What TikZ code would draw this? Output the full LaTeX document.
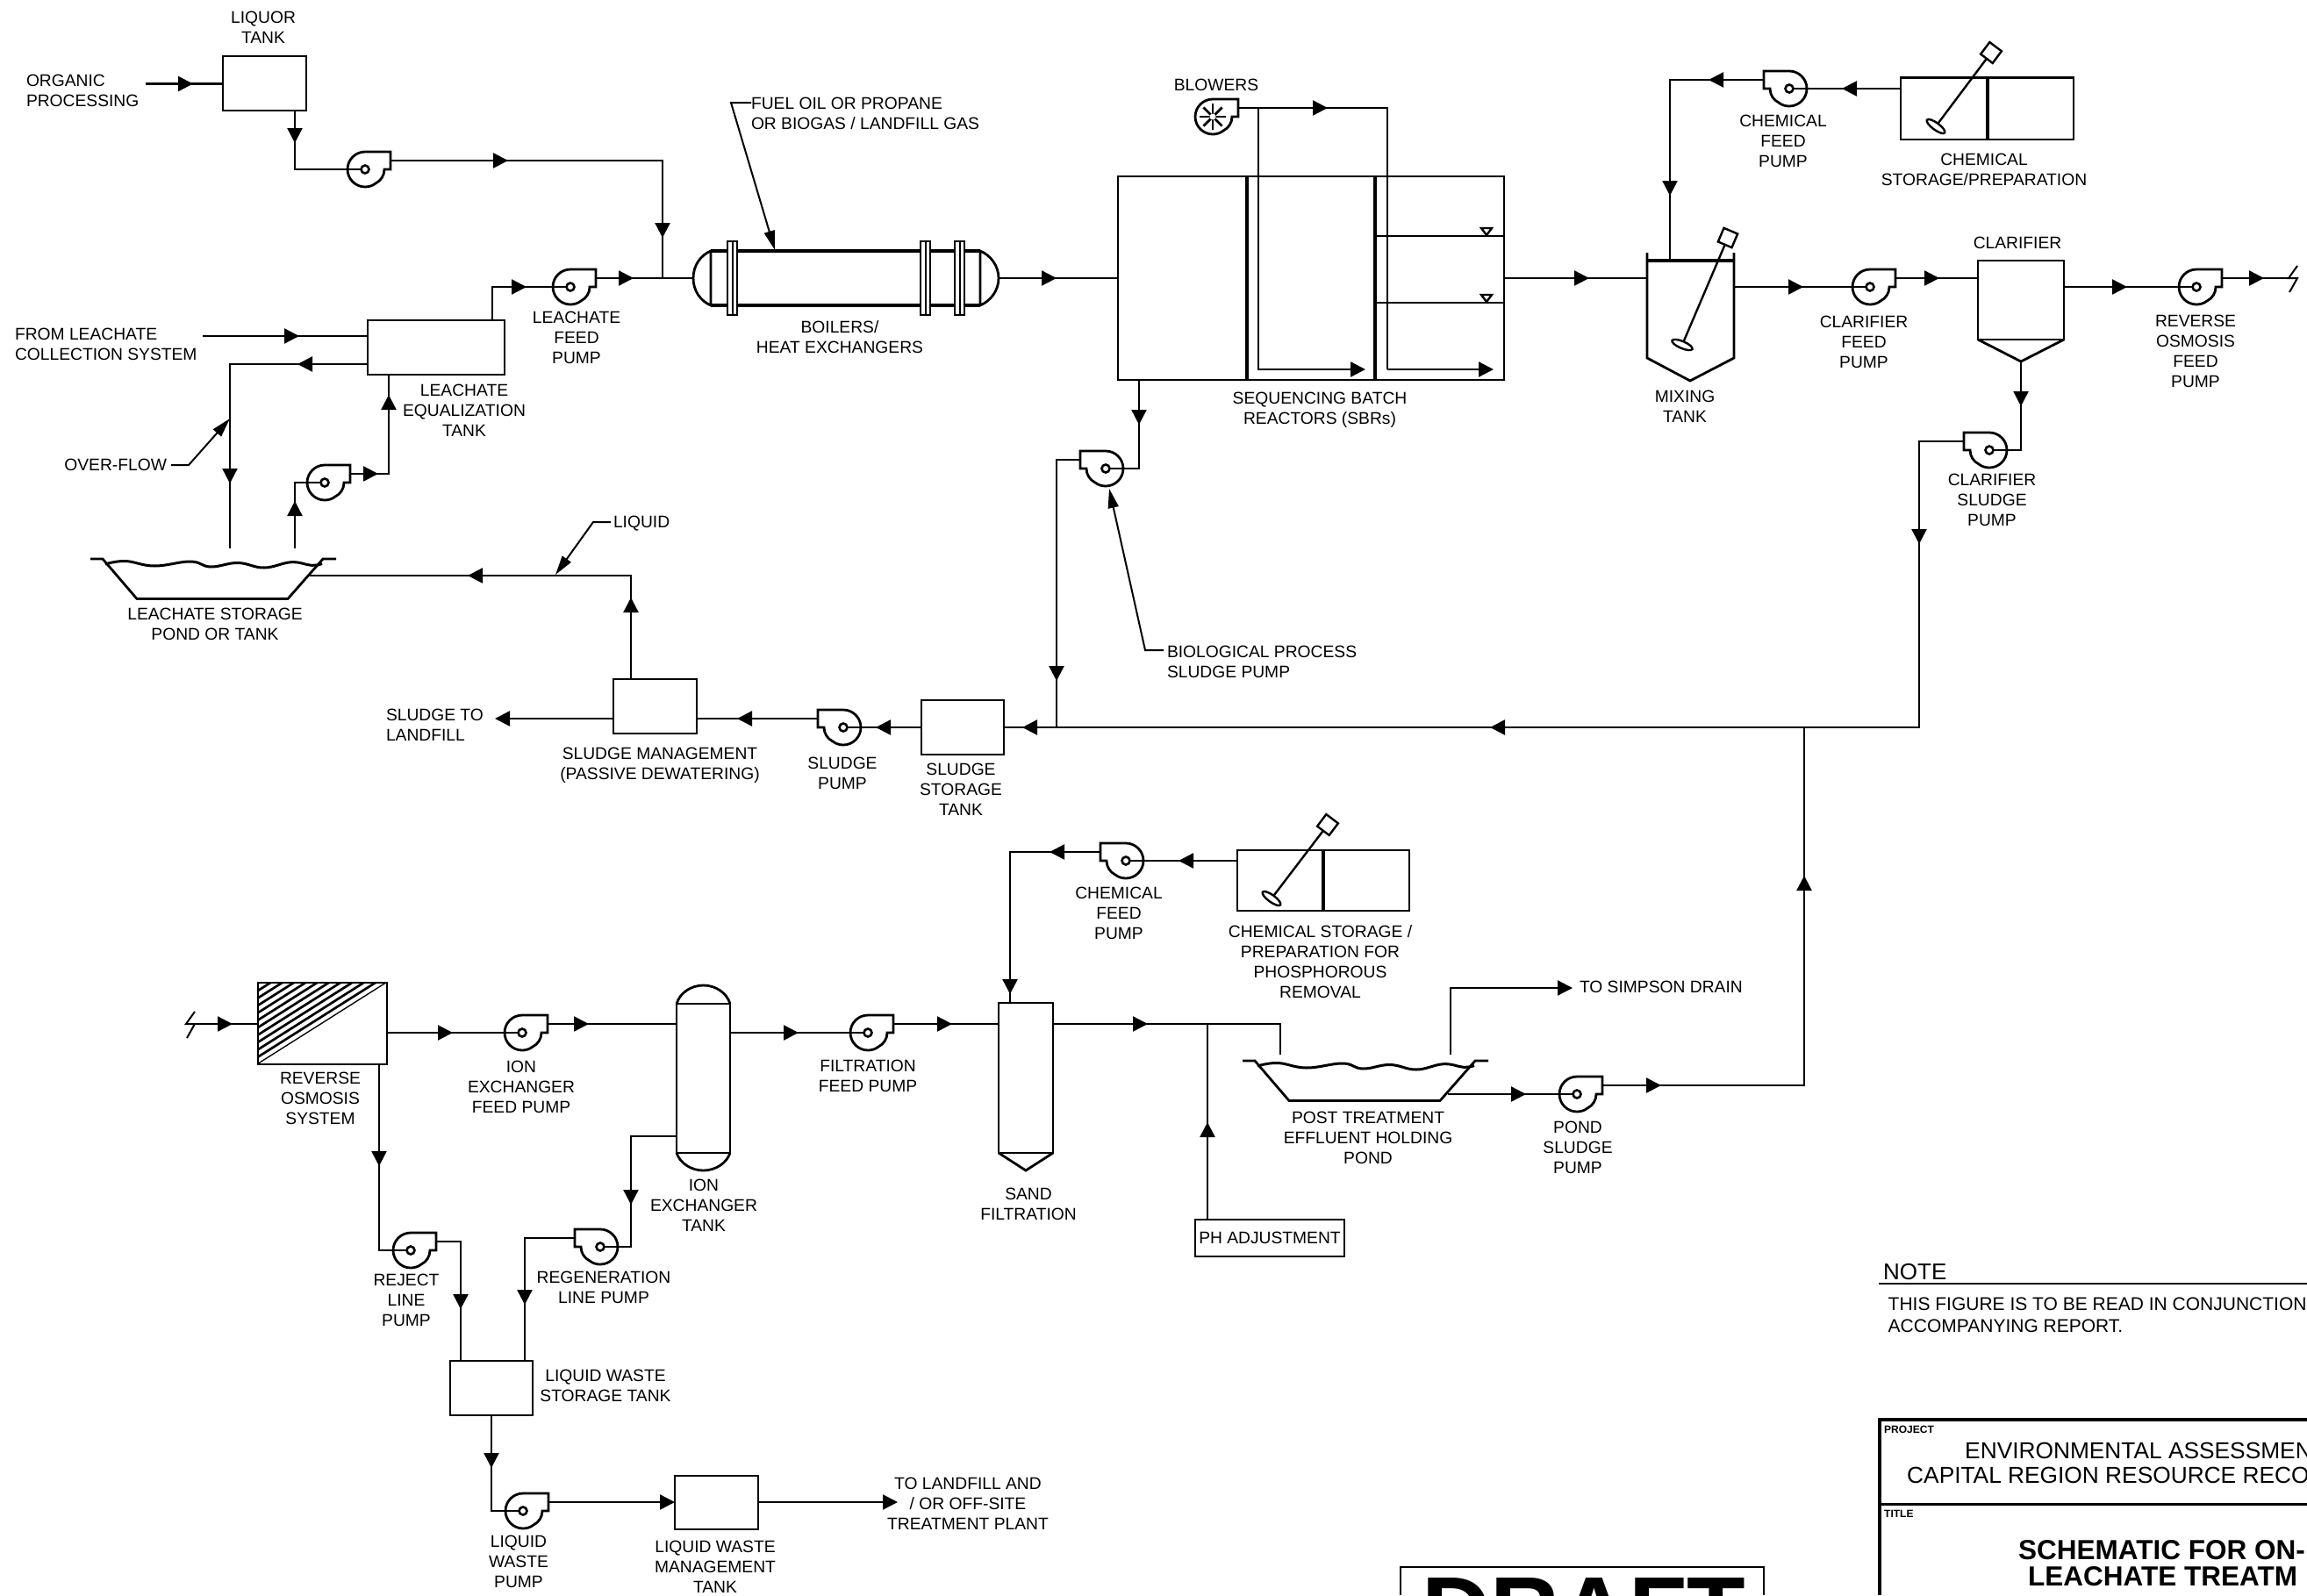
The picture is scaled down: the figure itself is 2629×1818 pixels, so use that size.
\documentclass[tikz,border=0pt]{standalone}
\usepackage{fontspec}
\setmainfont{Liberation Sans}
\usetikzlibrary{arrows.meta,decorations.markings,shapes.geometric,calc}
\tikzset{
  tipS/.tip={Triangle[length=17pt,width=17pt]},
  tipL/.tip={Triangle[length=22pt,width=12pt]},
  pipe/.style={draw,line width=2.4pt,line join=miter},
  flow/.style={postaction={decorate,decoration={markings,mark=at position #1pt with {\arrow{tipS}}}}},
  flowend/.style={-{tipS}},
  leader/.style={draw,line width=2pt,-{tipL}},
  body/.style={draw,line width=2.8pt,line join=miter},
  tank/.style={draw,line width=2.8pt,inner sep=0pt,outer sep=0pt},
  hub/.style={circle,draw,fill=white,line width=2.6pt,minimum size=9pt,inner sep=0pt,outer sep=0pt},
  lbl/.style={inner sep=0pt,outer sep=0pt,align=center,font=\fontsize{19.25}{23}\selectfont},
  lbll/.style={lbl,align=left,anchor=west},
  agd/.style={draw,line width=2.4pt,minimum size=17pt,inner sep=0pt,outer sep=0pt},
  agp/.style={ellipse,draw,line width=2.4pt,minimum width=25pt,minimum height=8pt,inner sep=0pt,outer sep=0pt},
  shaft/.style={draw,line width=2.4pt},
  hatchline/.style={draw,line width=2.7pt},
}
\newcommand{\tankbox}[5]{\node[tank,minimum width={(#4-#2)*1pt},minimum height={(#5-#3)*1pt}] (#1) at ({(#2+#4)/2},{(#3+#5)/2}) {};}
\newcommand{\pumpsym}[4]{%
  \begin{scope}[shift={(#2,#3)},xscale=#4]
    \draw[body] (0,-20) -- (29,-20) -- (29,0) -- (22,0) .. controls (22,7) and (18,13) .. (12,16) .. controls (8.5,18.7) and (4.5,20) .. (0,20) .. controls (-11,20) and (-20,11) .. (-20,0) .. controls (-20,-11) and (-11,-20) .. (0,-20) -- cycle;
    \coordinate (#1-o) at (29,-10);
  \end{scope}
  \node[hub] (#1) at (#2,#3) {};
}
\newcommand{\txtc}[4]{\node[lbl] (#1) at (#2,#3) {#4};}
\newcommand{\txtl}[4]{\node[lbll] (#1) at (#2,#3) {#4};}
\newcommand{\agit}[7]{%
  \node[agd,rotate=#6] (#1d) at (#4,#5) {};
  \node[agp,rotate=#7] (#1p) at (#2,#3) {};
  \draw[shaft] (#1p) -- (#1d);
}
\newcommand{\pondsym}[2]{%
  \begin{scope}[shift={(#1,#2)}]
    \draw[body] (0,0) -- (14,0) -- (53,45.5) -- (225,45.5) -- (265,0) -- (280,0);
    \draw[line width=3pt] plot[smooth,tension=0.7] coordinates {(17,6) (40,2.5) (73,8) (114,3) (137,9) (168,4.5) (198,10) (229,3.7) (252,7.3) (264,5.5)};
  \end{scope}
}
\begin{document}
\begin{tikzpicture}[x=1pt,y=-1pt]
\useasboundingbox (0,0) rectangle (2629,1818);
\clip (0,0) rectangle (2629,1818);

% --- tanks
\tankbox{liquor}{254}{64}{349}{126}
\tankbox{eq}{419}{365}{575}{427}
\tankbox{sm}{699}{774}{794}{836}
\tankbox{sst}{1050}{798}{1144}{860}
\tankbox{sbr}{1274}{201}{1714}{433}
\tankbox{cs1}{2166}{88.5}{2363}{159}
\tankbox{clar}{2254}{297}{2352}{387}
\tankbox{cs2}{1410}{969}{1606}{1038}
\tankbox{ro}{294}{1120}{441}{1213}
\tankbox{ix}{771}{1144}{832}{1314}
\tankbox{filt}{1138}{1143}{1200}{1314}
\tankbox{lws}{513}{1551}{607}{1613}
\tankbox{lwm}{769}{1682}{864}{1743}
\node[tank,minimum width=170pt,minimum height=42pt,font=\fontsize{19.25}{23}\selectfont] (ph) at (1447,1411) {PH ADJUSTMENT};

% --- tank details
\draw[line width=3.6pt] (sbr.north west -| 1421,0) -- (sbr.south west -| 1421,0);
\draw[line width=3.6pt] (sbr.north west -| 1567,0) -- (sbr.south west -| 1567,0);
\draw[tank] (1567,269) -- (1714,269);
\draw[tank] (1567,345) -- (1714,345);
\draw[line width=2.4pt] (1688,260) -- (1700,260) -- (1694,268) -- cycle;
\draw[line width=2.4pt] (1688,336) -- (1700,336) -- (1694,344) -- cycle;
\draw[line width=3.2pt] (2265,88.5) -- (2265,159);
\draw[line width=3.6pt] (1508,969) -- (1508,1038);
\draw[body] (2254,387) -- (2303,412) -- (2352,387);
\draw[body] (1138,1314) -- (1169,1334) -- (1200,1314);
% ion exchanger caps
\draw[body] (771,1144) .. controls (775,1131) and (788,1123) .. (801.5,1123) .. controls (815,1123) and (828,1131) .. (832,1144);
\draw[body] (771,1314) .. controls (775,1326) and (788,1334) .. (801.5,1334) .. controls (815,1334) and (828,1326) .. (832,1314);
% RO hatch
\begin{scope}
  \clip (294,1120) -- (441,1120) -- (294,1213) -- cycle;
  \foreach \k in {0,1,...,11} {
    \draw[hatchline] (294,{1213-8.4*\k}) -- (441,{1120-8.4*\k});
  }
\end{scope}
% mixing tank
\draw[body] (1877,288) -- (1877,408) -- (1926,434) -- (1976,408) -- (1976,288);
\draw[line width=3.6pt] (1877,297) -- (1976,297);
% agitators
\agit{aga}{2206}{144}{2269}{60}{53}{-36}
\agit{agb}{1917}{393}{1969}{271}{67}{-23}
\agit{agc}{1449}{1024}{1513}{940}{53}{-36}
% boiler
\draw[body,line width=3.4pt] (810,286) -- (1117,286);
\draw[body,line width=3.4pt] (810,348) -- (1117,348);
\draw[body] (810,286) .. controls (798,291) and (790,303) .. (790,317) .. controls (790,331) and (798,343) .. (810,348) -- cycle;
\draw[body] (1117,286) .. controls (1129,291) and (1138,303) .. (1138,317) .. controls (1138,331) and (1129,343) .. (1117,348) -- cycle;
\foreach \fx in {829,1049,1088} {
  \draw[body,fill=white] (\fx,275) rectangle (\fx+11,359);
  \draw[line width=2pt] (\fx+5.5,275) -- (\fx+5.5,359);
}
\coordinate (boilin) at (790,317);
\coordinate (boilout) at (1138,317);
% ponds
\pondsym{103}{637}
\pondsym{1416}{1209}

% --- pumps
\pumpsym{pa}{416}{193}{1}
\pumpsym{pb}{650}{327}{1}
\pumpsym{pc}{370}{550}{1}
\pumpsym{pd}{961}{829}{-1}
\pumpsym{pe}{1260}{534}{-1}
\pumpsym{pf}{2039}{101}{-1}
\pumpsym{pg}{2131}{327}{1}
\pumpsym{ph1}{2267}{513}{-1}
\pumpsym{pi}{2503}{327}{1}
\pumpsym{pj}{1283}{981}{-1}
\pumpsym{pk}{595}{1177}{1}
\pumpsym{pl}{989}{1177}{1}
\pumpsym{pm}{1797}{1247}{1}
\pumpsym{pn}{468}{1425}{1}
\pumpsym{po}{684}{1421}{-1}
\pumpsym{pq}{596}{1722}{1}
% blower
\begin{scope}[shift={(1382,133)}]
  \draw[body] (0,-20) -- (29,-20) -- (29,0) -- (22,0) .. controls (22,7) and (18,13) .. (12,16) .. controls (8.5,18.7) and (4.5,20) .. (0,20) .. controls (-11,20) and (-20,11) .. (-20,0) .. controls (-20,-11) and (-11,-20) .. (0,-20) -- cycle;
  \foreach \a in {0,45,...,315} { \draw[line width=2.8pt] (0,0) -- (\a:15); }
  \coordinate (bl-o) at (29,-10);
\end{scope}
\node[circle,fill=white,minimum size=7pt,inner sep=0pt] (blhub) at (1382,133) {};

% --- named free ends and junctions
\coordinate (orgin) at (166,95.5);
\coordinate (liqout) at (336,126);
\coordinate (ja) at (755,317);
\coordinate (eqtop) at (561,365);
\coordinate (fromin) at (231,383);
\coordinate (eqov) at (419,415);
\coordinate (pda) at (262,625);
\coordinate (pdb) at (336,625);
\coordinate (eqin) at (443,427);
\coordinate (smtop) at (719,774);
\coordinate (pdout) at (353,656);
\coordinate (smw) at (699,819);
\coordinate (smout) at (564,819);
\coordinate (sme) at (794,819);
\coordinate (sstw) at (1050,829);
\coordinate (jb) at (2187,829);
\coordinate (sste) at (1144,829);
\coordinate (sbrout) at (1298,433);
\coordinate (jc) at (1204,829);
\coordinate (sbrw) at (1274,317);
\coordinate (ba) at (1581,123);
\coordinate (bb) at (1434,123);
\coordinate (sa) at (1581,421);
\coordinate (sb) at (1702,421);
\coordinate (sc) at (1556,421);
\coordinate (sbre) at (1714,317);
\coordinate (mixw) at (1877,317);
\coordinate (mixtop) at (1903,297);
\coordinate (cswa) at (2166,101);
\coordinate (mixe) at (1976,327);
\coordinate (clarw) at (2254,317);
\coordinate (clare) at (2352,327);
\coordinate (clarb) at (2303,412);
\coordinate (brka) at (2618,317);
\coordinate (brkb) at (213,1167);
\coordinate (row) at (294,1167);
\coordinate (roe) at (441,1177);
\coordinate (ixw) at (771,1167);
\coordinate (rob) at (432,1213);
\coordinate (lwsa) at (525,1551);
\coordinate (ixb) at (771,1295);
\coordinate (jd) at (719,1421);
\coordinate (lwsb) at (598,1551);
\coordinate (lwso) at (560,1613);
\coordinate (lwmw) at (769,1712);
\coordinate (lwme) at (864,1712);
\coordinate (lwmo) at (1023,1712);
\coordinate (ixe) at (832,1177);
\coordinate (filtw) at (1138,1167);
\coordinate (cswb) at (1410,981);
\coordinate (filttop) at (1151,1143);
\coordinate (filte) at (1200,1167);
\coordinate (pondin) at (1459,1202);
\coordinate (jf) at (1376,1167);
\coordinate (phtop) at (1376,1390);
\coordinate (pondo) at (1650,1247);
\coordinate (je) at (2056,829);
\coordinate (simpa) at (1653,1202);
\coordinate (simpb) at (1792,1126);

% --- connectors
\draw[pipe,flow=54] (orgin) -- (orgin -| liquor.west);
\draw[pipe,flow=37] (liqout) |- (pa);
\draw[pipe,flow=134,flow=398] (pa-o) -| (ja);
\draw[pipe,flow=77] (eqtop) |- (pb);
\draw[pipe,flow=43] (pb-o) -- (boilin);
\draw[pipe,flow=110] (fromin) -- (fromin -| eq.west);
\draw[pipe,flow=80,flow=293] (eqov) -| (pda);
\draw[pipe,flow=54] (pdb) |- (pc);
\draw[pipe,flow=32,flow=134] (pc-o) -| (eqin);
\draw[pipe,flow=93,flow=304] (smtop) |- (pdout);
\draw[pipe,flowend] (smw) -- (smout);
\draw[pipe,flow=92] (pd-o) -- (sme);
\draw[pipe,flow=52] (sstw) -- (pd);
\draw[pipe,flow=168,flow=866,flow=1399] (ph1-o) -| (jb) -- (sste);
\draw[pipe,flow=51] (sbrout) |- (pe);
\draw[pipe,flow=279] (pe-o) -| (jc);
\draw[pipe,flow=66] (boilout) -- (sbrw);
\draw[pipe,flow=102] (bl-o) -- (ba) -- (sa);
\draw[pipe,flowend] (sa) -- (sb);
\draw[pipe,flowend] (bb) |- (sc);
\draw[pipe,flow=97] (sbre) -- (mixw);
\draw[pipe,flow=63,flow=239] (pf-o) -| (mixtop);
\draw[pipe,flow=67] (cswa) -- (pf);
\draw[pipe,flow=79] (mixe) -- (pg);
\draw[pipe,flow=50] (pg-o) -- (clarw);
\draw[pipe,flow=72] (clare) -- (pi);
\draw[pipe,flow=48] (pi-o) -- (brka);
\draw[pipe,flow=51] (clarb) |- (ph1);
\draw[pipe,flow=52] (brkb) -- (row);
\draw[pipe,flow=75] (roe) -- (pk);
\draw[pipe,flow=47] (pk-o) -- (ixw);
\draw[pipe,flow=116] (rob) |- (pn);
\draw[pipe,flow=105] (pn-o) -| (lwsa);
\draw[pipe,flow=130] (ixb) -| (jd) -- (po);
\draw[pipe,flow=133] (po-o) -| (lwsb);
\draw[pipe,flow=60] (lwso) |- (pq);
\draw[pipe,flowend] (pq-o) -- (lwmw);
\draw[pipe,flowend] (lwme) -- (lwmo);
\draw[pipe,flow=78] (ixe) -- (pl);
\draw[pipe,flow=67] (pl-o) -- (filtw);
\draw[pipe,flow=67] (cswb) -- (pj);
\draw[pipe,flow=58,flow=265] (pj-o) -| (filttop);
\draw[pipe,flow=108] (filte) -| (pondin);
\draw[pipe,flow=111] (phtop) -- (jf);
\draw[pipe,flow=89] (pondo) -- (pm);
\draw[pipe,flow=67,flow=469] (pm-o) -| (je);
\draw[pipe,flowend] (simpa) |- (simpb);

% break marks
\draw[line width=2pt] (2618,303) -- (2608,317) -- (2618,317) -- (2609,333);
\draw[line width=2pt] (222,1153) -- (212,1167) -- (222,1167) -- (213,1183);

% --- labels
\txtc{tliq}{300}{31.5}{LIQUOR\\TANK}
\txtl{torg}{30}{103.5}{ORGANIC\\PROCESSING}
\txtl{tfrom}{17}{392}{FROM LEACHATE\\COLLECTION SYSTEM}
\txtc{tlfp}{657}{385}{LEACHATE\\FEED\\PUMP}
\txtc{teq}{529}{468}{LEACHATE\\EQUALIZATION\\TANK}
\node[lbl,anchor=east] (tov) at (190,530) {OVER-FLOW};
\txtc{tstor}{245}{711.5}{LEACHATE STORAGE\\POND OR TANK}
\txtl{tliquid}{699}{597}{LIQUID}
\txtl{tfuel}{856}{129}{FUEL OIL OR PROPANE\\OR BIOGAS / LANDFILL GAS}
\txtc{tboil}{957}{384.5}{BOILERS/\\HEAT EXCHANGERS}
\txtc{tblow}{1386}{97}{BLOWERS}
\txtc{tsbr}{1504}{467.5}{SEQUENCING BATCH\\REACTORS (SBRs)}
\txtl{tbio}{1330}{754}{BIOLOGICAL PROCESS\\SLUDGE PUMP}
\txtc{tcfp}{2032}{161}{CHEMICAL\\FEED\\PUMP}
\txtc{tcsp}{2261}{193}{CHEMICAL\\STORAGE/PREPARATION}
\txtc{tmix}{1920}{463}{MIXING\\TANK}
\txtc{tcl}{2299}{277}{CLARIFIER}
\txtc{tclf}{2124}{390}{CLARIFIER\\FEED\\PUMP}
\txtc{tcls}{2270}{570}{CLARIFIER\\SLUDGE\\PUMP}
\txtc{trof}{2502}{400}{REVERSE\\OSMOSIS\\FEED\\PUMP}
\txtl{tslf}{440}{826.5}{SLUDGE TO\\LANDFILL}
\txtc{tsm}{752}{872.5}{SLUDGE MANAGEMENT\\(PASSIVE DEWATERING)}
\txtc{tsp}{960}{881}{SLUDGE\\PUMP}
\txtc{tsst}{1095}{900}{SLUDGE\\STORAGE\\TANK}
\txtc{tcf2}{1275}{1041}{CHEMICAL\\FEED\\PUMP}
\txtc{tcs2}{1504.5}{1096}{CHEMICAL STORAGE /\\PREPARATION FOR\\PHOSPHOROUS\\REMOVAL}
\txtl{tsimp}{1800}{1125}{TO SIMPSON DRAIN}
\txtc{tro}{365}{1252}{REVERSE\\OSMOSIS\\SYSTEM}
\txtc{tifp}{594}{1238.5}{ION\\EXCHANGER\\FEED PUMP}
\txtc{tixt}{802}{1373.5}{ION\\EXCHANGER\\TANK}
\txtc{tffp}{989}{1226.5}{FILTRATION\\FEED PUMP}
\txtc{tsand}{1172}{1372.5}{SAND\\FILTRATION}
\txtc{tpost}{1559}{1297}{POST TREATMENT\\EFFLUENT HOLDING\\POND}
\txtc{tpsp}{1798}{1308}{POND\\SLUDGE\\PUMP}
\txtc{trej}{463}{1482}{REJECT\\LINE\\PUMP}
\txtc{treg}{688}{1467}{REGENERATION\\LINE PUMP}
\txtc{tlws}{690}{1579.5}{LIQUID WASTE\\STORAGE TANK}
\txtc{tlwp}{591}{1780}{LIQUID\\WASTE\\PUMP}
\txtc{tlwm}{815}{1786}{LIQUID WASTE\\MANAGEMENT\\TANK}
\txtc{tland}{1103}{1713.5}{TO LANDFILL AND\\/ OR OFF-SITE\\TREATMENT PLANT}

% --- leaders
\coordinate (fa) at (856,117);
\coordinate (fb) at (833,117);
\coordinate (fc) at (883,285);
\draw[leader] (fa) -- (fb) -- (fc);
\coordinate (oa) at (195,530);
\coordinate (ob) at (215,530);
\coordinate (oc) at (262,477);
\draw[leader] (oa) -- (ob) -- (oc);
\coordinate (la) at (696,595);
\coordinate (lb) at (676,595);
\coordinate (lc) at (633,655);
\draw[leader] (la) -- (lb) -- (lc);
\coordinate (ra) at (1326,741);
\coordinate (rb) at (1305,741);
\coordinate (rc) at (1264,557);
\draw[leader] (ra) -- (rb) -- (rc);

% --- note and title block
\node[inner sep=0pt,anchor=west,font=\fontsize{26}{30}\selectfont] (tnote) at (2146,1450) {NOTE};
\draw[line width=2pt] (2141,1463) -- (2629,1463);
\node[inner sep=0pt,anchor=west,align=left,font=\fontsize{21}{25}\selectfont] (tnt) at (2151.5,1498.5) {THIS FIGURE IS TO BE READ IN CONJUNCTION\\ACCOMPANYING REPORT.};
\draw[line width=4pt] (2629,1618) -- (2141.5,1618) -- (2141.5,1818);
\draw[line width=3pt] (2141.5,1714) -- (2629,1714);
\node[inner sep=0pt,anchor=west,font=\bfseries\fontsize{12}{14}\selectfont] (tpr) at (2147,1629) {PROJECT};
\node[inner sep=0pt,anchor=west,font=\bfseries\fontsize{12}{14}\selectfont] (tti) at (2147,1725) {TITLE};
\node[inner sep=0pt,anchor=west,font=\fontsize{26.3}{30}\selectfont] (tena) at (2239,1653) {ENVIRONMENTAL ASSESSMEN};
\node[inner sep=0pt,anchor=west,font=\fontsize{26.3}{30}\selectfont] (tenb) at (2173,1681) {CAPITAL REGION RESOURCE RECO};
\node[inner sep=0pt,anchor=west,font=\bfseries\fontsize{31.5}{36}\selectfont] (ttia) at (2300,1767) {SCHEMATIC FOR ON-};
\node[inner sep=0pt,anchor=west,font=\bfseries\fontsize{31.5}{36}\selectfont] (ttib) at (2311,1797) {LEACHATE TREATM};
% draft stamp
\draw[line width=1.6pt] (1596,1818) -- (1596,1786) -- (2010,1786) -- (2010,1818);
\node[inner sep=0pt,anchor=base west,font=\bfseries\fontsize{109}{120}\selectfont] (tdraft) at (1620,1873) {DRAFT};
\end{tikzpicture}
\end{document}
